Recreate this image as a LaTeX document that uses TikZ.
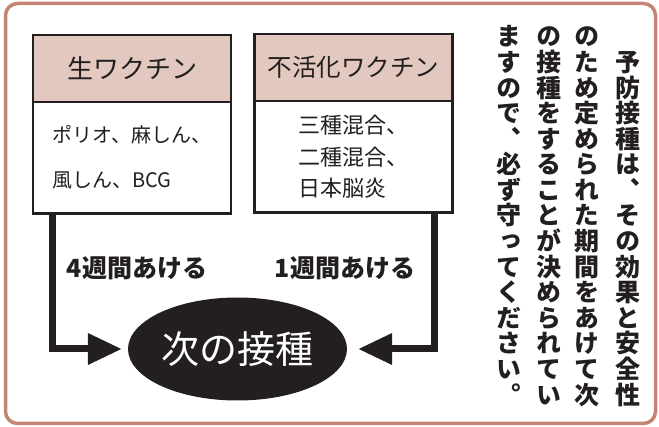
\documentclass[tikz,border=0pt]{standalone}
\usepackage{fontspec}
\newfontfamily\jpfont{Noto Sans CJK JP}
\newfontfamily\tatefont[RawFeature=+vert]{Noto Sans CJK JP}
\usetikzlibrary{positioning,shapes.geometric,arrows.meta}
\definecolor{framebrown}{RGB}{196,134,116}
\definecolor{headpink}{RGB}{226,200,190}
\definecolor{inkblack}{RGB}{35,31,32}
\newcommand\tatestop{}
\newcommand\tategobble[1]{}
\newcommand\tatetext[1]{\vbox{\offinterlineskip\tatenext#1\tatestop}}
\def\tatenext#1{\ifx#1\tatestop\expandafter\tategobble\else\expandafter\tatestep\fi{#1}}
\def\tatestep#1{\hbox to 1em{\hss\rule[-3pt]{0pt}{25.6pt}#1\hss}\tatenext}
\tikzset{
  headbox/.style={draw=inkblack, line width=2.5pt, fill=headpink, minimum width=198pt,
    minimum height=67pt, inner sep=0pt, outer sep=0pt, text=inkblack},
  bodybox/.style={draw=inkblack, line width=2.5pt, fill=white, minimum width=198pt,
    minimum height=111.5pt, inner sep=0pt, outer sep=0pt, align=left, text=inkblack},
  nextdose/.style={ellipse, fill=inkblack, minimum width=219pt, minimum height=103pt,
    inner sep=0pt, text=white, font=\jpfont\fontsize{38}{40}\selectfont},
  flow/.style={draw=inkblack, line width=7pt, -{Triangle[length=34pt,width=30pt]}},
  gaplabel/.style={text=inkblack, font=\jpfont\bfseries\fontsize{25}{30}\selectfont},
  tatecol/.style={anchor=north, inner sep=0pt, text=inkblack,
    font=\tatefont\bfseries\fontsize{25}{25.6}\selectfont}
}
\begin{document}
\begin{tikzpicture}[x=1pt,y=-1pt]
\useasboundingbox (0,0) rectangle (659,427);
\draw[framebrown, line width=3.5pt, rounded corners=12pt] (5.5,3.5) rectangle (655.5,423.5);

\node[headbox, font=\jpfont\fontsize{26}{30}\selectfont] (livehead) at (132,68.5) {生ワクチン};
\node[bodybox, below=0pt of livehead, font=\jpfont\fontsize{20}{45}\selectfont] (livebody)
  {ポリオ、麻しん、\\風しん、BCG};
\node[headbox, font=\jpfont\fontsize{24.5}{30}\selectfont] (inacthead) at (353.5,67.5) {不活化ワクチン};
\node[bodybox, below=0pt of inacthead, font=\jpfont\fontsize{22}{31.5}\selectfont] (inactbody)
  {三種混合、\\二種混合、\\日本脳炎};

\node[nextdose] (next) at (237.5,349) {次の接種};
\draw[flow] ([xshift=19pt]livebody.south west) |- ([xshift=-6pt]next.west);
\draw[flow] ([xshift=-18pt]inactbody.south east) |- ([xshift=11pt]next.east);
\node[gaplabel] (livegap) at (137,268) {4週間あける};
\node[gaplabel] (inactgap) at (345,268) {1週間あける};

\node[tatecol] (note1) at (628,23) {\tatetext{　予防接種は、その効果と安全性}};
\node[tatecol] (note2) at (587,23) {\tatetext{のため定められた期間をあけて次}};
\node[tatecol] (note3) at (549,23) {\tatetext{の接種をすることが決められてい}};
\node[tatecol] (note4) at (509,23) {\tatetext{ますので、必ず守ってください。}};
\end{tikzpicture}
\end{document}
